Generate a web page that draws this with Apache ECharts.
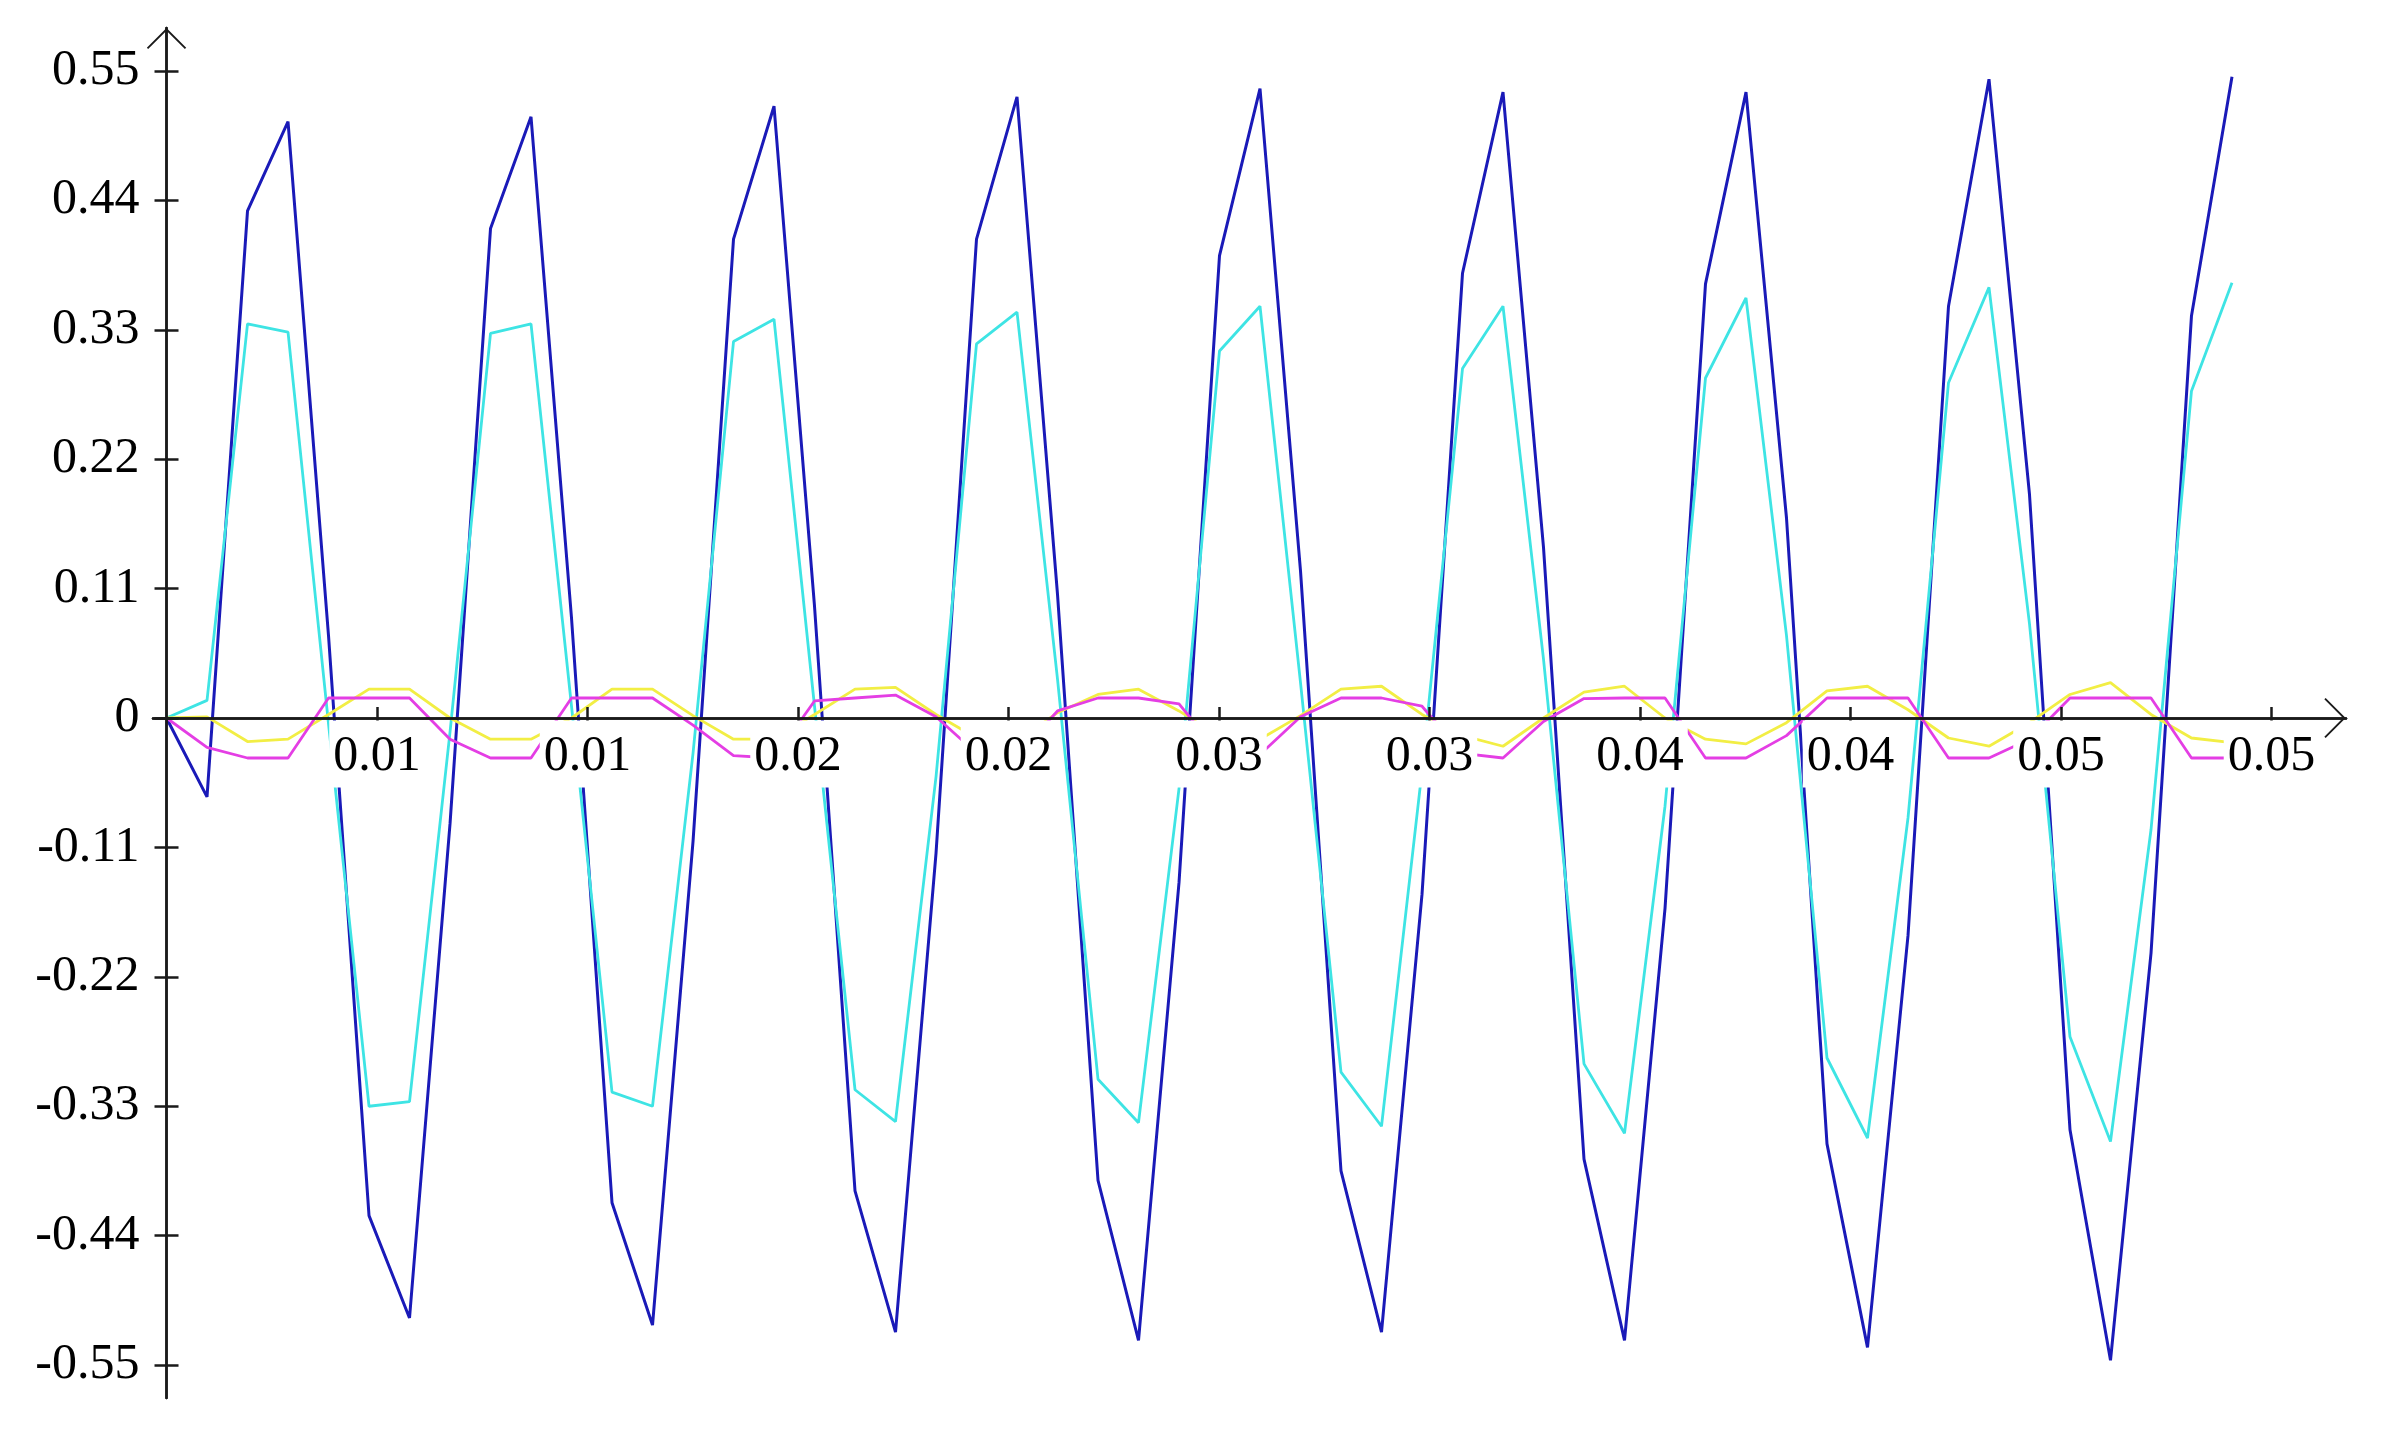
<!DOCTYPE html>
<html>
<head>
<meta charset="utf-8">
<script src="https://cdn.jsdelivr.net/npm/echarts@6/dist/echarts.min.js"></script>
<style>
html,body{margin:0;padding:0;background:#ffffff;}
#chart{width:2390px;height:1438px;}
</style>
</head>
<body>
<div id="chart"></div>
<script>
// sample times (s)
const times = [0, 0.000962, 0.001924, 0.002886, 0.003848, 0.00481, 0.005772, 0.006734, 0.007696, 0.008658,
  0.00962, 0.010582, 0.011544, 0.012506, 0.013468, 0.01443, 0.015392, 0.016354, 0.017316, 0.018278,
  0.01924, 0.020202, 0.021164, 0.022126, 0.023088, 0.02405, 0.025012, 0.025974, 0.026936, 0.027898,
  0.02886, 0.029822, 0.030784, 0.031746, 0.032708, 0.03367, 0.034632, 0.035594, 0.036556, 0.037518,
  0.03848, 0.039442, 0.040404, 0.041366, 0.042328, 0.04329, 0.044252, 0.045214, 0.046176, 0.047138,
  0.0481, 0.049062];

const blueValues = [0, -0.067, 0.431, 0.507, 0.07, -0.423, -0.510, -0.09, 0.416, 0.511,
  0.085, -0.412, -0.516, -0.105, 0.407, 0.520, 0.095, -0.402, -0.522, -0.115,
  0.407, 0.528, 0.105, -0.393, -0.529, -0.14, 0.393, 0.535, 0.125, -0.385,
  -0.522, -0.15, 0.378, 0.532, 0.145, -0.375, -0.529, -0.162, 0.369, 0.532,
  0.17, -0.362, -0.535, -0.185, 0.350, 0.543, 0.19, -0.350, -0.546, -0.20,
  0.342, 0.545];

const cyanValues = [0, 0.015, 0.335, 0.328, -0.005, -0.330, -0.326, -0.012, 0.327, 0.335,
  0.01, -0.318, -0.330, -0.03, 0.320, 0.339, 0.01, -0.316, -0.343, -0.05,
  0.318, 0.345, 0.033, -0.307, -0.344, -0.06, 0.312, 0.350, 0.03, -0.301,
  -0.347, -0.045, 0.297, 0.350, 0.05, -0.294, -0.353, -0.075, 0.289, 0.357,
  0.07, -0.289, -0.357, -0.085, 0.285, 0.366, 0.08, -0.271, -0.360, -0.095,
  0.278, 0.370];

const yellowValues = [0, 0.001, -0.020, -0.018, 0.003, 0.0245, 0.0245, 0.0, -0.018, -0.018,
  0.0, 0.0245, 0.0245, 0.002, -0.018, -0.018, 0.003, 0.0245, 0.026, 0.003,
  -0.017, -0.020, 0.0045, 0.020, 0.0245, 0.006, -0.016, -0.018, 0.002, 0.0245,
  0.027, 0.003, -0.015, -0.024, 0.0, 0.022, 0.027, 0.0, -0.018, -0.022,
  -0.004, 0.023, 0.027, 0.007, -0.017, -0.024, -0.004, 0.020, 0.030, 0.003,
  -0.017, -0.021];

const magentaValues = [0, -0.025, -0.034, -0.034, 0.017, 0.017, 0.017, -0.018, -0.034, -0.034,
  0.017, 0.017, 0.017, -0.006, -0.032, -0.034, 0.0145, 0.017, 0.0195, 0.001,
  -0.030, -0.032, 0.006, 0.017, 0.017, 0.012, -0.030, -0.031, 0.001, 0.017,
  0.017, 0.010, -0.030, -0.034, -0.003, 0.0165, 0.017, 0.017, -0.034, -0.034,
  -0.015, 0.017, 0.017, 0.017, -0.034, -0.034, -0.018, 0.017, 0.017, 0.017,
  -0.034, -0.034];

const xTicks = [0.005, 0.01, 0.015, 0.02, 0.025, 0.03, 0.035, 0.04, 0.045, 0.05];
const xTickLabels = ['0.01', '0.01', '0.02', '0.02', '0.03', '0.03', '0.04', '0.04', '0.05', '0.05'];
const yTicks = [-0.55, -0.44, -0.33, -0.22, -0.11, 0, 0.11, 0.22, 0.33, 0.44, 0.55];
const yTickLabels = ['-0.55', '-0.44', '-0.33', '-0.22', '-0.11', '0', '0.11', '0.22', '0.33', '0.44', '0.55'];

function lookup(ticks, labels, v) {
  let bi = 0, bd = Infinity;
  ticks.forEach((t, i) => { const d = Math.abs(t - v); if (d < bd) { bd = d; bi = i; } });
  return labels[bi];
}
function pairs(ys) { return times.map((t, i) => [t, ys[i]]); }

const X_MIN = -0.000321, X_MAX = 0.05177;
const Y_MIN = -0.578, Y_MAX = 0.5865;
const axisColor = '#1a1a1a';
const arrowPath = 'path://M0,0L21,21L19.6,22.4L0,2.8L-19.6,22.4L-21,21Z';
const labelFont = { fontFamily: 'Liberation Serif', fontSize: 50, color: '#000' };

const chart = echarts.init(document.getElementById('chart'), null, { renderer: 'canvas' });

function lineSeries(name, values, color, width) {
  return {
    name: name, type: 'line', data: pairs(values), showSymbol: false, symbol: 'none',
    xAxisIndex: 0, yAxisIndex: 0,
    lineStyle: { color: color, width: width }, itemStyle: { color: color },
    animation: false, z: 2
  };
}
const hiddenX = (g) => ({ type: 'value', gridIndex: g, min: X_MIN, max: X_MAX, show: false });
const hiddenY = (g) => ({ type: 'value', gridIndex: g, min: Y_MIN, max: Y_MAX, show: false });

chart.setOption({
  animation: false,
  backgroundColor: '#ffffff',
  grid: [
    { left: 153, right: 44, top: 28, bottom: 40 },          // plot
    { left: 153, right: 44, top: 28, bottom: 719.6 },       // bottom edge = y zero line (x labels)
    { left: 166.5, right: 44, top: 28, bottom: 40 }         // left edge = x zero line (y labels)
  ],
  xAxis: [{
    type: 'value', gridIndex: 0, min: X_MIN, max: X_MAX, position: 'bottom', z: 10,
    axisLine: { show: true, onZero: true, lineStyle: { color: axisColor, width: 2.5 },
      symbol: ['none', arrowPath], symbolSize: [40, 22], symbolOffset: [0, -11] },
    axisTick: { show: true, length: 11, customValues: xTicks, lineStyle: { color: axisColor, width: 2.5 } },
    axisLabel: { show: false },
    splitLine: { show: false }
  }, {
    type: 'value', gridIndex: 0, min: X_MIN, max: X_MAX, position: 'top', z: 10,
    axisLine: { show: true, onZero: true, onZeroAxisIndex: 0, lineStyle: { color: axisColor, width: 2.5 } },
    axisTick: { show: true, length: 11, customValues: xTicks, lineStyle: { color: axisColor, width: 2.5 } },
    axisLabel: { show: false },
    splitLine: { show: false }
  }, {
    type: 'value', gridIndex: 1, min: X_MIN, max: X_MAX, position: 'bottom', z: 12,
    axisLine: { show: false, onZero: false },
    axisTick: { show: false },
    axisLabel: Object.assign({ show: true, customValues: xTicks, margin: 2,
      formatter: v => lookup(xTicks, xTickLabels, v),
      backgroundColor: '#ffffff', padding: [8, 4, 3, 4], lineHeight: 56 }, labelFont),
    splitLine: { show: false }
  }, hiddenX(2)],
  yAxis: [{
    type: 'value', gridIndex: 0, min: Y_MIN, max: Y_MAX, position: 'left', z: 10,
    axisLine: { show: true, onZero: true, lineStyle: { color: axisColor, width: 2.5 },
      symbol: ['none', arrowPath], symbolSize: [46, 21], symbolOffset: [0, -10.5] },
    axisTick: { show: true, length: 12, customValues: yTicks, lineStyle: { color: axisColor, width: 2.5 } },
    axisLabel: { show: false },
    splitLine: { show: false }
  }, {
    type: 'value', gridIndex: 0, min: Y_MIN, max: Y_MAX, position: 'right', z: 10,
    axisLine: { show: true, onZero: true, onZeroAxisIndex: 0, lineStyle: { color: axisColor, width: 2.5 } },
    axisTick: { show: true, length: 12, customValues: yTicks, lineStyle: { color: axisColor, width: 2.5 } },
    axisLabel: { show: false },
    splitLine: { show: false }
  }, hiddenY(1), {
    type: 'value', gridIndex: 2, min: Y_MIN, max: Y_MAX, position: 'left', z: 12,
    axisLine: { show: false, onZero: false },
    axisTick: { show: false },
    axisLabel: Object.assign({ show: true, customValues: yTicks, margin: 27,
      formatter: v => lookup(yTicks, yTickLabels, v) }, labelFont),
    splitLine: { show: false }
  }],
  series: [
    lineSeries('blue', blueValues, '#1a1ab8', 3),
    lineSeries('cyan', cyanValues, '#3ee4e4', 2.8),
    lineSeries('yellow', yellowValues, '#f2ee44', 2.8),
    lineSeries('magenta', magentaValues, '#e43ee4', 2.8)
  ]
});
</script>
</body>
</html>
